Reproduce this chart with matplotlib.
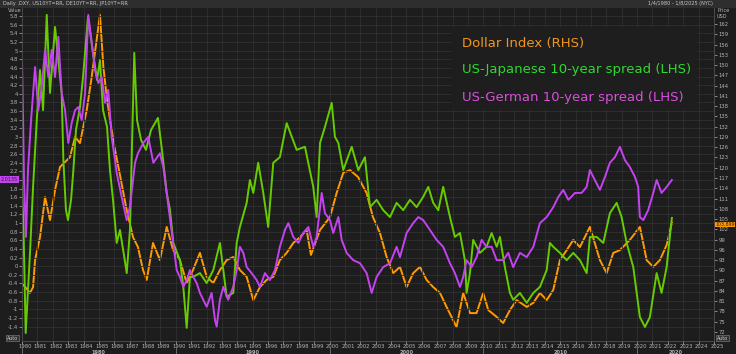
import matplotlib
matplotlib.use('Agg')
import matplotlib.pyplot as plt
import matplotlib.transforms as mtransforms
from matplotlib.patches import Rectangle

# Dollar index (right axis)
dxy_year = [1980.00, 1980.52, 1980.72, 1980.85, 1981.17, 1981.50, 1981.82, 1982.15, 1982.47, 1983.12,
            1983.45, 1983.77, 1984.21, 1984.53, 1984.81, 1985.07, 1985.29, 1985.51, 1985.72, 1986.05,
            1986.37, 1986.81, 1987.22, 1987.54, 1987.87, 1988.11, 1988.52, 1988.97, 1989.41, 1989.82,
            1990.27, 1990.71, 1991.12, 1991.57, 1992.01, 1992.44, 1992.87, 1993.31, 1993.74, 1994.17,
            1994.61, 1995.04, 1995.47, 1995.91, 1996.34, 1996.77, 1997.21, 1997.64, 1998.08, 1998.51,
            1998.79, 1999.38, 2000.03, 2000.46, 2000.89, 2001.33, 2001.85, 2002.41, 2002.82, 2003.28,
            2003.71, 2004.14, 2004.58, 2005.01, 2005.44, 2005.88, 2006.31, 2006.74, 2007.18, 2007.61,
            2008.26, 2008.69, 2009.13, 2009.56, 2009.99, 2010.32, 2010.86, 2011.29, 2011.73, 2012.17,
            2012.82, 2013.25, 2013.68, 2014.12, 2014.55, 2014.98, 2015.42, 2015.85, 2016.28, 2016.93,
            2017.58, 2018.02, 2018.45, 2018.88, 2019.53, 2020.18, 2020.62, 2021.05, 2021.48, 2021.92,
            2022.26]
dxy = [86.3, 83.4, 85.1, 93.0, 99.7, 111.4, 104.7, 113.5, 120.2, 123.1,
       129.0, 127.2, 136.9, 146.5, 155.9, 164.7, 149.5, 140.7, 134.0, 125.2,
       117.9, 107.6, 99.7, 96.8, 90.1, 87.2, 98.0, 93.0, 102.7, 96.0,
       93.0, 86.3, 90.1, 95.1, 88.1, 86.3, 90.1, 93.0, 93.9, 90.1,
       88.1, 81.3, 85.1, 87.2, 88.1, 93.0, 95.1, 98.0, 99.7, 101.8,
       94.5, 101.8, 105.6, 112.6, 118.5, 119.3, 117.3, 112.6, 105.6, 100.9,
       93.9, 89.2, 91.0, 85.1, 89.2, 91.0, 87.2, 85.1, 83.4, 79.3,
       73.4, 83.4, 77.5, 77.5, 83.4, 78.4, 76.4, 74.6, 78.4, 81.3,
       79.3, 80.5, 83.4, 81.3, 84.3, 93.0, 95.9, 98.9, 96.8, 102.7,
       93.0, 89.2, 95.1, 95.9, 98.9, 102.7, 93.0, 91.0, 93.0, 97.4,
       103.9]

# US-Japanese 10-year spread (left axis)
jp_year = [1980.00, 1980.10, 1980.24, 1980.52, 1980.72, 1980.96, 1981.17, 1981.37, 1981.61, 1981.82,
           1982.15, 1982.36, 1982.58, 1982.69, 1982.86, 1982.99, 1983.19, 1983.34, 1983.51, 1983.77,
           1983.97, 1984.29, 1984.62, 1984.88, 1985.07, 1985.27, 1985.53, 1985.72, 1985.92, 1986.16,
           1986.37, 1986.63, 1986.81, 1987.02, 1987.30, 1987.48, 1987.74, 1988.06, 1988.39, 1988.84,
           1989.10, 1989.41, 1989.62, 1989.84, 1990.27, 1990.49, 1990.71, 1990.92, 1991.12, 1991.57,
           1992.01, 1992.44, 1992.87, 1993.31, 1993.74, 1993.96, 1994.17, 1994.61, 1994.82, 1995.04,
           1995.36, 1995.69, 1996.01, 1996.34, 1996.77, 1997.21, 1997.86, 1998.40, 1998.94, 1999.16,
           1999.38, 1999.70, 2000.14, 2000.35, 2000.57, 2000.89, 2001.44, 2001.87, 2002.30, 2002.63,
           2003.06, 2003.49, 2003.93, 2004.36, 2004.79, 2005.23, 2005.66, 2006.09, 2006.42, 2006.74,
           2007.07, 2007.39, 2007.83, 2008.15, 2008.48, 2008.80, 2008.91, 2009.13, 2009.34, 2009.78,
           2010.21, 2010.54, 2010.87, 2011.08, 2011.40, 2011.73, 2011.94, 2012.38, 2012.82, 2013.25,
           2013.68, 2014.12, 2014.33, 2014.55, 2014.98, 2015.42, 2015.85, 2016.28, 2016.72, 2016.93,
           2017.37, 2017.80, 2018.23, 2018.67, 2018.99, 2019.32, 2019.75, 2019.97, 2020.18, 2020.51,
           2020.83, 2021.27, 2021.59, 2021.92, 2022.26]
us_jp = [1.84, 0.84, -1.55, 0.31, 1.84, 3.39, 4.55, 3.62, 5.83, 4.02,
         5.55, 4.78, 4.02, 2.46, 1.30, 1.07, 1.54, 2.23, 3.16, 3.69,
         4.39, 5.78, 4.95, 4.32, 4.78, 3.62, 3.23, 2.23, 1.54, 0.54,
         0.84, 0.26, -0.16, 0.84, 4.95, 3.39, 2.93, 2.70, 3.16, 3.44,
         2.70, 1.70, 1.31, 0.54, 0.14, -0.48, -1.43, -0.25, -0.25, -0.16,
         -0.39, -0.09, 0.54, -0.71, -0.62, 0.54, 0.91, 1.47, 2.00, 1.70,
         2.40, 1.70, 0.91, 2.40, 2.53, 3.32, 2.70, 2.77, 1.84, 1.14,
         2.86, 3.23, 3.79, 3.00, 2.86, 2.23, 2.77, 2.23, 2.53, 1.37,
         1.54, 1.30, 1.14, 1.47, 1.30, 1.54, 1.37, 1.61, 1.84, 1.47,
         1.30, 1.84, 1.14, 0.68, 0.77, 0.14, -0.62, -0.16, 0.61, 0.31,
         0.45, 0.77, 0.45, 0.68, -0.02, -0.62, -0.78, -0.62, -0.85, -0.62,
         -0.48, -0.09, 0.54, 0.45, 0.31, 0.14, 0.31, 0.14, -0.16, 0.68,
         0.68, 0.54, 1.23, 1.47, 1.14, 0.54, -0.02, -0.62, -1.18, -1.41,
         -1.18, -0.16, -0.62, -0.02, 1.12]

# US-German 10-year spread (left axis)
de_year = [1980.00, 1980.07, 1980.13, 1980.26, 1980.39, 1980.59, 1980.85, 1981.06, 1981.28, 1981.50,
           1981.71, 1981.93, 1982.15, 1982.36, 1982.58, 1982.80, 1983.01, 1983.23, 1983.45, 1983.66,
           1983.88, 1984.10, 1984.31, 1984.53, 1984.75, 1984.96, 1985.18, 1985.40, 1985.61, 1985.83,
           1986.05, 1986.16, 1986.48, 1986.81, 1987.02, 1987.35, 1987.54, 1987.89, 1988.21, 1988.54,
           1988.97, 1989.19, 1989.41, 1989.62, 1989.84, 1990.06, 1990.27, 1990.49, 1990.71, 1990.92,
           1991.14, 1991.36, 1991.57, 1991.79, 1992.01, 1992.33, 1992.55, 1992.66, 1992.87, 1993.09,
           1993.41, 1993.74, 1993.96, 1994.17, 1994.39, 1994.61, 1994.93, 1995.26, 1995.47, 1995.80,
           1996.12, 1996.45, 1996.77, 1997.10, 1997.32, 1997.64, 1997.97, 1998.29, 1998.62, 1998.94,
           1999.16, 1999.49, 1999.70, 2000.03, 2000.24, 2000.57, 2000.79, 2001.11, 2001.54, 2001.98,
           2002.41, 2002.74, 2003.06, 2003.49, 2003.93, 2004.36, 2004.58, 2005.01, 2005.44, 2005.77,
           2006.09, 2006.53, 2006.96, 2007.39, 2007.83, 2008.15, 2008.48, 2008.69, 2008.91, 2009.24,
           2009.56, 2009.89, 2010.21, 2010.54, 2010.87, 2011.29, 2011.62, 2011.94, 2012.38, 2012.82,
           2013.25, 2013.68, 2014.12, 2014.55, 2014.88, 2015.20, 2015.53, 2015.96, 2016.39, 2016.72,
           2016.93, 2017.15, 2017.58, 2017.91, 2018.23, 2018.56, 2018.88, 2019.21, 2019.53, 2019.86,
           2020.07, 2020.18, 2020.40, 2020.72, 2021.05, 2021.27, 2021.59, 2021.92, 2022.26]
us_de = [4.78, 3.39, 2.00, 0.68, 2.23, 3.39, 4.62, 3.62, 4.16, 5.02,
         4.39, 5.02, 4.39, 5.32, 4.02, 3.62, 2.86, 3.32, 3.62, 3.69,
         3.39, 4.02, 5.83, 5.18, 4.55, 4.25, 4.39, 3.79, 4.09, 3.00,
         2.46, 2.16, 1.61, 1.07, 1.38, 2.40, 2.62, 2.86, 3.00, 2.40,
         2.62, 2.30, 1.70, 1.14, 0.54, -0.09, -0.25, -0.48, -0.32, -0.09,
         -0.25, -0.39, -0.62, -0.78, -0.94, -0.62, -1.25, -1.40, -0.78, -0.48,
         -0.78, -0.48, -0.09, 0.45, 0.31, -0.02, -0.16, -0.32, -0.48, -0.16,
         -0.32, -0.09, 0.45, 0.84, 1.00, 0.68, 0.54, 0.77, 0.91, 0.45,
         0.68, 1.70, 1.23, 1.07, 0.77, 1.14, 0.61, 0.31, 0.14, 0.07,
         -0.16, -0.62, -0.25, -0.02, 0.07, 0.45, 0.21, 0.77, 1.00, 1.14,
         1.07, 0.84, 0.61, 0.45, 0.07, -0.16, -0.48, -0.25, 0.14, -0.02,
         0.21, 0.61, 0.45, 0.45, 0.14, 0.14, 0.31, -0.02, 0.31, 0.21,
         0.45, 1.00, 1.14, 1.37, 1.61, 1.77, 1.54, 1.70, 1.70, 1.84,
         2.23, 2.07, 1.77, 2.07, 2.40, 2.53, 2.77, 2.46, 2.30, 2.07,
         1.84, 1.14, 1.07, 1.30, 1.70, 2.00, 1.70, 1.84, 2.00]

left_ticks = [round(-1.4 + 0.2 * i, 1) for i in range(37)]
right_ticks = list(range(72, 163, 3))
years = list(range(1980, 2026))
decades = [1980, 1990, 2000, 2010, 2020]

bg = '#222222'
grid_c = '#303030'
lab_c = '#b4b4b4'
orange = '#FF9A00'
green = '#66CC00'
magenta = '#C443F0'

fig = plt.figure(figsize=(7.36, 3.54), dpi=100, facecolor='#1d1d1d')
ax = fig.add_axes([22 / 736, 13 / 354, 692 / 736, 333 / 354])
ax2 = ax.twinx()
ax.set_zorder(ax2.get_zorder() + 1)
ax.patch.set_visible(False)
ax2.set_facecolor(bg)

ax2.plot(dxy_year, dxy, color=orange, lw=1.4)
ax.plot(jp_year, us_jp, color=green, lw=1.4)
ax.plot(de_year, us_de, color=magenta, lw=1.4)

ax.set_xlim(1980, 2025)
ax.set_ylim(-1.735, 5.99)
ax2.set_ylim(69.34, 166.7)

# the "2" label sits under the last value tag in the original
ax.set_yticks(left_ticks)
ax.set_yticklabels(['' if v == 2 else '%g' % v for v in left_ticks])
ax2.set_yticks(right_ticks)
ax2.set_yticklabels([str(v) for v in right_ticks])
ax.set_xticks(years)
ax.set_xticklabels([str(y) for y in years])

for a in (ax, ax2):
    a.tick_params(axis='both', labelsize=3.8, colors=lab_c, length=2, width=0.5, pad=1)
    for s in a.spines.values():
        s.set_color('#4a4a4a')
        s.set_linewidth(0.6)
    a.spines['top'].set_visible(False)
ax.tick_params(axis='x', pad=0.5)
ax2.tick_params(axis='x', length=0)

for v in left_ticks:
    ax.axhline(v, color=grid_c, lw=0.6, zorder=0)
for y in years:
    ax.axvline(y, color=grid_c, lw=0.6, zorder=0)

# shift the year labels a little right of their ticks
off = mtransforms.ScaledTranslation(3 / 100, 0, fig.dpi_scale_trans)
for lbl in ax.get_xticklabels():
    lbl.set_transform(lbl.get_transform() + off)

trans = mtransforms.blended_transform_factory(ax.transData, ax.transAxes)
for i, d in enumerate(decades):
    end = decades[i + 1] if i + 1 < len(decades) else 2025
    ax.text((d + end) / 2, -0.0335, str(d), transform=trans, fontsize=3.6, color=lab_c,
            ha='center', va='center', fontweight='bold')
    ax.plot([d, d], [-0.022, -0.04], transform=trans, color='#777777', lw=0.6, clip_on=False)

# legend box
fig.patches.append(Rectangle((452 / 736, 1 - 110 / 354), 245 / 736, 83 / 354,
                             transform=fig.transFigure, facecolor='#1e1e1e', edgecolor='none', zorder=5))
fig.text(462 / 736, 1 - 43 / 354, 'Dollar Index (RHS)', color='#F0961E', fontsize=9.5, va='center', zorder=6)
fig.text(462 / 736, 1 - 70 / 354, 'US-Japanese 10-year spread (LHS)', color='#2FD82F', fontsize=9.5, va='center', zorder=6)
fig.text(462 / 736, 1 - 98 / 354, 'US-German 10-year spread (LHS)', color='#D84FDC', fontsize=9.5, va='center', zorder=6)

# header strip and axis titles
fig.patches.append(Rectangle((0, 1 - 8 / 354), 1, 8 / 354, transform=fig.transFigure,
                             facecolor='#2e2e2e', edgecolor='none'))
fig.text(3 / 736, 1 - 4 / 354, 'Daily .DXY, US10YT=RR, DE10YT=RR, JP10YT=RR', fontsize=3.6, color='#c8c8c8', va='center')
fig.text(713 / 736, 1 - 4 / 354, '1/4/1980 - 1/8/2025 (NYC)', fontsize=3.6, color='#c8c8c8', va='center', ha='right')
fig.text(8 / 736, 1 - 11 / 354, 'Value', fontsize=3.6, color=lab_c, va='center')
fig.text(717 / 736, 1 - 10 / 354, 'Price', fontsize=3.6, color=lab_c, va='center')
fig.text(717 / 736, 1 - 16 / 354, 'USD', fontsize=3.6, color=lab_c, va='center')

# last value tags
fig.text(1 / 736, 1 - 179.5 / 354, '2.0135', fontsize=3.5, color='#222222', va='center',
         bbox=dict(boxstyle='square,pad=0.15', facecolor=magenta, edgecolor='none'))
fig.text(715 / 736, 1 - 224.5 / 354, '103.899', fontsize=3.4, color='#222222', va='center',
         bbox=dict(boxstyle='square,pad=0.1', facecolor=orange, edgecolor='none'))

# auto scale buttons
for xa in (7 / 736, 717 / 736):
    fig.text(xa, 1 - 338 / 354, 'Auto', fontsize=3.4, color='#d0d0d0', va='center',
             bbox=dict(boxstyle='square,pad=0.15', facecolor='#333333', edgecolor='#888888', lw=0.4))

fig.savefig('out.png', dpi=100, facecolor=fig.get_facecolor())
